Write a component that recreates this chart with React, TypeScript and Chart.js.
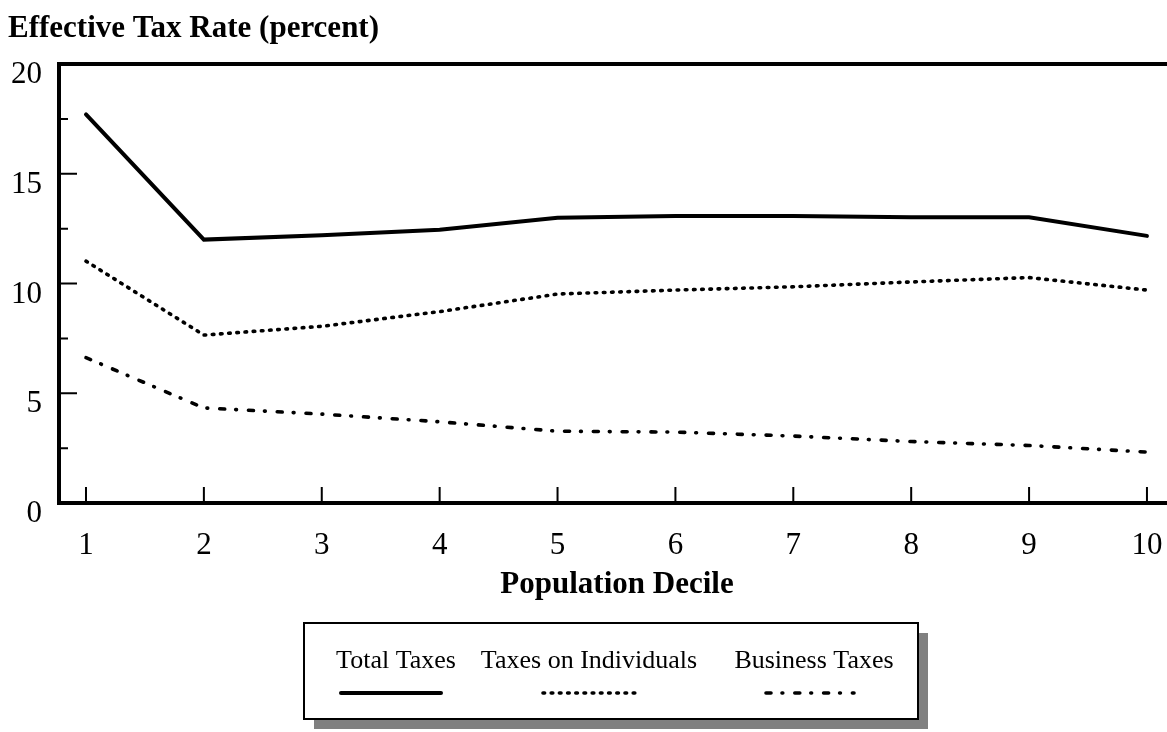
import React, { useEffect, useRef } from 'react';
import { Chart, registerables } from 'chart.js';

Chart.register(...registerables);

// ---- data ----
const deciles = [1, 2, 3, 4, 5, 6, 7, 8, 9, 10];
const totalTaxes = [17.7, 12.0, 12.2, 12.45, 13.0, 13.07, 13.07, 13.02, 13.02, 12.17];
const individualTaxes = [11.02, 7.65, 8.05, 8.72, 9.52, 9.7, 9.85, 10.07, 10.27, 9.7];
const businessTaxes = [6.62, 4.33, 4.05, 3.7, 3.27, 3.23, 3.05, 2.8, 2.62, 2.32];
const yTickValues = [0, 2.5, 5, 7.5, 10, 12.5, 15, 17.5, 20];
const yTickLabels = ['0', '', '5', '', '10', '', '15', '', '20'];
const seriesNames = ['Total Taxes', 'Taxes on Individuals', 'Business Taxes'];
const chartTitle = 'Effective Tax Rate (percent)';
const xTitle = 'Population Decile';

const SERIF = '"Liberation Serif", "Times New Roman", serif';

const decorPlugin = {
  id: 'decor',
  afterDraw(chart: any) {
    const { ctx, chartArea } = chart;
    const { left, top, right, bottom } = chartArea;
    const xs = chart.scales.x;
    const ys = chart.scales.y;
    ctx.save();
    ctx.strokeStyle = '#000';
    ctx.fillStyle = '#000';

    // axis frame: left, top, bottom
    ctx.lineWidth = 4;
    ctx.lineCap = 'butt';
    ctx.setLineDash([]);
    ctx.beginPath();
    ctx.moveTo(left, bottom + 2);
    ctx.lineTo(left, top - 2);
    ctx.moveTo(left - 2, top);
    ctx.lineTo(right, top);
    ctx.moveTo(left - 2, bottom);
    ctx.lineTo(right, bottom);
    ctx.stroke();

    // inner tick marks
    ctx.lineWidth = 2;
    ctx.beginPath();
    ys.ticks.forEach((t: any) => {
      if (t.value === 0 || t.value === 20) return;
      const y = ys.getPixelForValue(t.value);
      const len = yTickLabels[yTickValues.indexOf(t.value)] ? 18 : 9;
      ctx.moveTo(left, y);
      ctx.lineTo(left + len, y);
    });
    xs.ticks.forEach((t: any) => {
      const x = xs.getPixelForValue(t.value);
      ctx.moveTo(x, bottom);
      ctx.lineTo(x, bottom - 16);
    });
    ctx.stroke();

    // chart title
    ctx.font = 'bold 31px ' + SERIF;
    ctx.textAlign = 'left';
    ctx.textBaseline = 'alphabetic';
    ctx.fillText(chartTitle, 8, 37);

    // x axis title
    ctx.font = 'bold 31px ' + SERIF;
    ctx.textAlign = 'center';
    ctx.textBaseline = 'middle';
    ctx.fillText(xTitle, 617, 585);

    // legend box with shadow
    const bx = 304, by = 623, bw = 614, bh = 96;
    ctx.fillStyle = '#808080';
    ctx.fillRect(bx + 10, by + 10, bw, bh);
    ctx.fillStyle = '#fff';
    ctx.fillRect(bx, by, bw, bh);
    ctx.lineWidth = 2;
    ctx.strokeStyle = '#000';
    ctx.strokeRect(bx, by, bw, bh);

    const textCenters = [396, 589, 814];
    const sampleCenters = [391, 590, 810];
    const sampleHalf = [50, 47, 44];
    ctx.font = '26px ' + SERIF;
    ctx.fillStyle = '#000';
    ctx.textAlign = 'center';
    ctx.textBaseline = 'middle';
    chart.data.datasets.forEach((ds: any, i: number) => {
      ctx.fillText(ds.label, textCenters[i], 661);
      ctx.save();
      ctx.lineWidth = ds.borderWidth;
      ctx.strokeStyle = ds.borderColor;
      ctx.lineCap = ds.borderCapStyle || 'butt';
      ctx.setLineDash(ds.borderDash || []);
      ctx.beginPath();
      ctx.moveTo(sampleCenters[i] - sampleHalf[i], 693);
      ctx.lineTo(sampleCenters[i] + sampleHalf[i], 693);
      ctx.stroke();
      ctx.restore();
    });
    ctx.restore();
  },
};

export default function App() {
  const canvasRef = useRef<HTMLCanvasElement | null>(null);

  useEffect(() => {
    if (!canvasRef.current) return;
    const chart = new Chart(canvasRef.current, {
      type: 'line',
      data: {
        datasets: [
          {
            label: seriesNames[0],
            data: deciles.map((d, i) => ({ x: d, y: totalTaxes[i] })),
            borderColor: '#000',
            borderWidth: 4,
            borderCapStyle: 'round',
            borderJoinStyle: 'miter',
            pointRadius: 0,
            tension: 0,
            fill: false,
          },
          {
            label: seriesNames[1],
            data: deciles.map((d, i) => ({ x: d, y: individualTaxes[i] })),
            borderColor: '#000',
            borderWidth: 3.6,
            borderDash: [1.6, 6.6],
            borderCapStyle: 'round',
            pointRadius: 0,
            tension: 0,
            fill: false,
          },
          {
            label: seriesNames[2],
            data: deciles.map((d, i) => ({ x: d, y: businessTaxes[i] })),
            borderColor: '#000',
            borderWidth: 3.6,
            borderDash: [5, 11, 0.8, 12],
            borderCapStyle: 'round',
            pointRadius: 0,
            tension: 0,
            fill: false,
          },
        ],
      } as any,
      options: {
        animation: false,
        responsive: true,
        maintainAspectRatio: false,
        layout: { padding: { top: 64, left: 0, right: 0, bottom: 0 } },
        plugins: {
          legend: { display: false },
          title: { display: false },
          tooltip: { enabled: false },
        },
        scales: {
          x: {
            type: 'linear',
            min: 0.771,
            max: 10.17,
            afterFit: (s: any) => {
              s.height = 229;
              s.paddingLeft = 0;
              s.paddingRight = 0;
            },
            afterBuildTicks: (s: any) => {
              s.ticks = deciles.map((v) => ({ value: v }));
            },
            grid: { display: false, drawTicks: false },
            border: { display: false },
            ticks: {
              autoSkip: false,
              maxRotation: 0,
              padding: 24,
              color: '#000',
              font: { family: SERIF, size: 31 },
              callback: (v: any) => String(v),
            },
          },
          y: {
            type: 'linear',
            min: 0,
            max: 20,
            afterFit: (s: any) => {
              s.width = 59;
              s.paddingTop = 0;
              s.paddingBottom = 0;
            },
            afterBuildTicks: (s: any) => {
              s.ticks = yTickValues.map((v) => ({ value: v }));
            },
            grid: { display: false, drawTicks: false },
            border: { display: false },
            ticks: {
              padding: 17,
              labelOffset: 11,
              color: '#000',
              font: { family: SERIF, size: 31 },
              callback: (v: any) => {
                const idx = yTickValues.indexOf(Number(v));
                return idx >= 0 ? yTickLabels[idx] : '';
              },
            },
          },
        },
      } as any,
      plugins: [decorPlugin],
    });
    return () => chart.destroy();
  }, []);

  return (
    <div
      style={{
        position: 'fixed',
        left: 0,
        top: 0,
        width: 1167,
        height: 732,
        background: '#fff',
      }}
    >
      <canvas ref={canvasRef} />
    </div>
  );
}
